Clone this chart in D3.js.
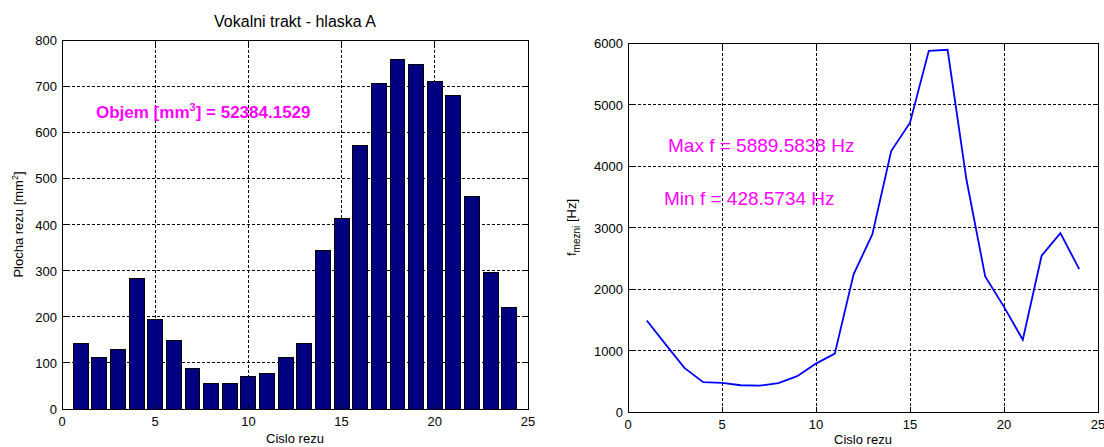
<!DOCTYPE html>
<html>
<head>
<meta charset="utf-8">
<script src="https://cdn.jsdelivr.net/npm/d3@7"></script>
<style>
  html, body { margin: 0; padding: 0; background: #fff; }
  svg { display: block; font-family: Arial, "Liberation Sans", sans-serif; }
</style>
</head>
<body>
<svg id="chart" width="1104" height="447"></svg>
<script>
// Cross-section index along the vocal tract
const sliceIndex = [1,2,3,4,5,6,7,8,9,10,11,12,13,14,15,16,17,18,19,20,21,22,23,24];
// Cross-section area per slice [mm^2]
const sliceArea = [141,112,128,284,193,149,88,56,56,70,77,112,143,343,412,571,706,758,746,710,679,461,296,219];
// Cut-off frequency per slice [Hz]
const cutoffFreq = [1488,1100,717,485,475,435,428.5734,469,582,787,949,2238,2892,4243,4705,5874,5889.5838,3784,2205,1709,1175,2541,2908,2324];

const xTicks = [0,5,10,15,20,25];
const areaTicks = [0,100,200,300,400,500,600,700,800];
const freqTicks = [0,1000,2000,3000,4000,5000,6000];

const svg = d3.select("#chart");

// Dashed grid behind the data
function drawFrame(g, x, y, xt, yt) {
  const [xa, xb] = x.range();
  const [yb, ya] = y.range();
  const grid = g.append("g").attr("stroke", "#000").attr("stroke-width", 1)
    .attr("stroke-dasharray", "3,2").attr("shape-rendering", "crispEdges");
  xt.forEach(v => grid.append("line").attr("x1", x(v)).attr("x2", x(v)).attr("y1", ya).attr("y2", yb));
  yt.forEach(v => grid.append("line").attr("x1", xa).attr("x2", xb).attr("y1", y(v)).attr("y2", y(v)));
}

// Box axes with inward ticks on all four sides, plus tick labels
function drawAxes(g, x, y, xt, yt) {
  const [xa, xb] = x.range();
  const [yb, ya] = y.range();
  const tl = 5;
  const ax = g.append("g").attr("stroke", "#000").attr("stroke-width", 1).attr("shape-rendering", "crispEdges");
  ax.append("rect").attr("x", xa).attr("y", ya).attr("width", xb - xa).attr("height", yb - ya).attr("fill", "none");
  xt.forEach(v => {
    ax.append("line").attr("x1", x(v)).attr("x2", x(v)).attr("y1", yb).attr("y2", yb - tl);
    ax.append("line").attr("x1", x(v)).attr("x2", x(v)).attr("y1", ya).attr("y2", ya + tl);
  });
  yt.forEach(v => {
    ax.append("line").attr("x1", xa).attr("x2", xa + tl).attr("y1", y(v)).attr("y2", y(v));
    ax.append("line").attr("x1", xb).attr("x2", xb - tl).attr("y1", y(v)).attr("y2", y(v));
  });
  const lab = g.append("g").attr("font-size", 13).attr("fill", "#000");
  xt.forEach(v => lab.append("text").attr("x", x(v)).attr("y", yb + 17).attr("text-anchor", "middle").text(v));
  yt.forEach(v => lab.append("text").attr("x", xa - 5).attr("y", y(v) + 5).attr("text-anchor", "end").text(v));
}

// ---- Left panel: cross-section areas (bar chart) ----
const xL = d3.scaleLinear().domain([0, 25]).range([62, 528]);
const yL = d3.scaleLinear().domain([0, 800]).range([409, 40]);
const gL = svg.append("g");
drawFrame(gL, xL, yL, xTicks, areaTicks);

const bw = (xL(1) - xL(0)) * 0.8;
gL.append("g").selectAll("rect").data(sliceIndex).join("rect")
  .attr("x", (d) => xL(d) - bw / 2)
  .attr("y", (d, i) => yL(sliceArea[i]))
  .attr("width", bw)
  .attr("height", (d, i) => yL(0) - yL(sliceArea[i]))
  .attr("fill", "#000080")
  .attr("stroke", "#000")
  .attr("stroke-width", 1)
  .attr("shape-rendering", "crispEdges");

drawAxes(gL, xL, yL, xTicks, areaTicks);

gL.append("text").attr("x", (xL(0) + xL(25)) / 2).attr("y", 27)
  .attr("text-anchor", "middle").attr("font-size", 16).text("Vokalni trakt - hlaska A");
gL.append("text").attr("x", (xL(0) + xL(25)) / 2).attr("y", 443)
  .attr("text-anchor", "middle").attr("font-size", 13).text("Cislo rezu");
const yLab = gL.append("text").attr("transform", `translate(23,${(yL(0) + yL(800)) / 2}) rotate(-90)`)
  .attr("text-anchor", "middle").attr("font-size", 13);
yLab.append("tspan").text("Plocha rezu [mm");
yLab.append("tspan").attr("font-size", 9).attr("dy", -5).text("2");
yLab.append("tspan").attr("dy", 5).text("]");

const vol = gL.append("text").attr("x", 96).attr("y", 118)
  .attr("font-size", 17).attr("font-weight", "bold").attr("fill", "#ff00ff");
vol.append("tspan").text("Objem [mm");
vol.append("tspan").attr("font-size", 11).attr("dy", -7).text("3");
vol.append("tspan").attr("dy", 7).text("] = 52384.1529");

// ---- Right panel: cut-off frequency (line chart) ----
const xR = d3.scaleLinear().domain([0, 25]).range([628, 1098]);
const yR = d3.scaleLinear().domain([0, 6000]).range([412, 43]);
const gR = svg.append("g");
drawFrame(gR, xR, yR, xTicks, freqTicks);

const line = d3.line().x((d) => xR(d)).y((d, i) => yR(cutoffFreq[i]));
gR.append("path").datum(sliceIndex).attr("d", line)
  .attr("fill", "none").attr("stroke", "#0000ff").attr("stroke-width", 1.8)
  .attr("stroke-linejoin", "miter");

drawAxes(gR, xR, yR, xTicks, freqTicks);

gR.append("text").attr("x", (xR(0) + xR(25)) / 2).attr("y", 444)
  .attr("text-anchor", "middle").attr("font-size", 13).text("Cislo rezu");
const fLab = gR.append("text").attr("transform", `translate(576,${(yR(0) + yR(6000)) / 2}) rotate(-90)`)
  .attr("text-anchor", "middle").attr("font-size", 13);
fLab.append("tspan").text("f");
fLab.append("tspan").attr("font-size", 10).attr("dy", 4).text("mezni");
fLab.append("tspan").attr("dy", -4).text(" [Hz]");

gR.append("text").attr("x", 668).attr("y", 152).attr("font-size", 19).attr("fill", "#ff00ff")
  .text("Max f = " + d3.max(cutoffFreq).toFixed(4) + " Hz");
gR.append("text").attr("x", 664).attr("y", 205).attr("font-size", 19).attr("fill", "#ff00ff")
  .text("Min f = " + d3.min(cutoffFreq).toFixed(4) + " Hz");
</script>
</body>
</html>
